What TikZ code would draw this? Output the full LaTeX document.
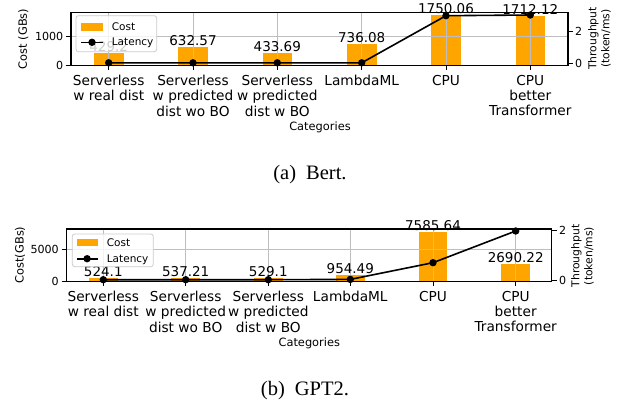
\documentclass[tikz,border=0pt]{standalone}
\usepackage{fontspec}
\newfontfamily\dv{DejaVu Sans}
\newfontfamily\tm{Liberation Serif}
\definecolor{barorange}{RGB}{255,165,0}
\definecolor{gridc}{RGB}{190,190,190}
\definecolor{legedge}{RGB}{204,204,204}
\tikzset{
  spine/.style={line width=1.1pt, black},
  gridl/.style={line width=0.8pt, gridc},
  barfill/.style={fill=barorange},
  latline/.style={line width=1.6pt, black},
  tickm/.style={line width=0.9pt, black},
  xtl/.style={font=\dv\fontsize{13.7}{15.3}\selectfont, align=center, anchor=north, inner sep=0pt},
  vlab/.style={font=\dv\fontsize{13.5}{15}\selectfont, anchor=base, inner sep=0pt},
  ytl/.style={font=\dv\fontsize{11.1}{13}\selectfont, inner sep=0pt},
  axl/.style={font=\dv\fontsize{11.4}{13}\selectfont, inner sep=0pt},
  rlab/.style={font=\dv\fontsize{10.8}{13}\selectfont, inner sep=0pt, rotate=90, align=center},
  legt/.style={font=\dv\fontsize{10.5}{12}\selectfont, anchor=base west, inner sep=0pt},
  legbox/.style={draw=legedge, line width=0.8pt, fill=white, fill opacity=0.8, rounded corners=2.5pt},
  capt/.style={font=\tm\fontsize{20.5}{24}\selectfont, anchor=base, inner sep=0pt},
}
\newcommand{\mkdot}[1]{\fill[black] (#1) circle (3.7pt);}
\begin{document}
\begin{tikzpicture}[x=1pt, y=-1pt]
\useasboundingbox (0,0) rectangle (633,402);
\fill[white] (0,0) rectangle (633,402);

% ================= TOP CHART (Bert) =================
% bars
\fill[barfill] (93.9,65.5) rectangle (123.5,53.25);
\fill[barfill] (178.2,65.5) rectangle (207.8,47.36);
\fill[barfill] (262.5,65.5) rectangle (292.1,53.12);
\fill[barfill] (346.9,65.5) rectangle (376.5,44.35);
\fill[barfill] (431.2,65.5) rectangle (460.8,14.95);
\fill[barfill] (515.5,65.5) rectangle (545.1,16.05);
% grid
\foreach \gx in {108.7,193.0,277.3,361.7,446.0,530.3} {\draw[gridl] (\gx,12.3) -- (\gx,65.5);}
\draw[gridl] (71,36.7) -- (568,36.7);
% value labels
\node[vlab] (va1) at (108.7,51.55) {429.2};
\node[vlab] (va2) at (193.0,45.66) {632.57};
\node[vlab] (va3) at (277.3,51.42) {433.69};
\node[vlab] (va4) at (361.7,42.65) {736.08};
\node[vlab] (va5) at (446.0,13.25) {1750.06};
\node[vlab] (va6) at (530.3,14.35) {1712.12};
% frame
\draw[spine] (71,12.3) rectangle (568,65.5);
% ticks
\foreach \gx in {108.7,193.0,277.3,361.7,446.0,530.3} {\draw[tickm] (\gx,65.5) -- (\gx,69.5);}
\draw[tickm] (65.5,65.5) -- (71,65.5);
\draw[tickm] (65.5,36.7) -- (71,36.7);
\draw[tickm] (568,63.3) -- (573,63.3);
\draw[tickm] (568,31.7) -- (573,31.7);
\node[ytl, anchor=east] (ay0) at (63.5,65.5) {0};
\node[ytl, anchor=east] (ay1) at (63.5,36.7) {1000};
\node[ytl, anchor=west] (ar0) at (575,63.3) {0};
\node[ytl, anchor=west] (ar2) at (575,31.7) {2};
% latency
\coordinate (ta1) at (108.7,62.8);
\coordinate (ta2) at (193.0,62.8);
\coordinate (ta3) at (277.3,62.8);
\coordinate (ta4) at (361.7,62.8);
\coordinate (ta5) at (446.0,15.7);
\coordinate (ta6) at (530.3,15.0);
\draw[latline] (ta1) -- (ta2) -- (ta3) -- (ta4) -- (ta5) -- (ta6);
\mkdot{ta1}\mkdot{ta2}\mkdot{ta3}\mkdot{ta4}\mkdot{ta5}\mkdot{ta6}
% x tick labels
\node[xtl] (xa1) at (108.7,75) {Serverless\\w real dist};
\node[xtl] (xa2) at (193.0,75) {Serverless\\w predicted\\dist wo BO};
\node[xtl] (xa3) at (277.3,75) {Serverless\\w predicted\\dist w BO};
\node[xtl] (xa4) at (361.7,75) {LambdaML};
\node[xtl] (xa5) at (446.0,75) {CPU};
\node[xtl] (xa6) at (530.3,75) {CPU\\better\\Transformer};
% axis labels
\node[axl, anchor=base] (cata) at (320,130) {Categories};
\node[axl, rotate=90] (yla) at (23.3,39) {Cost (GBs)};
\node[rlab] (rla) at (599.5,38.5) {Throughput\\(token/ms)};
% legend
\draw[legbox] (76,15.7) rectangle (156.7,51.7);
\fill[barfill] (81,23) rectangle (103,30.5);
\node[legt] (lca) at (111.7,30.5) {Cost};
\coordinate (lla1) at (81,42.3);
\coordinate (lla2) at (103,42.3);
\coordinate (llam) at (92,42.3);
\draw[latline] (lla1) -- (lla2);
\mkdot{llam}
\node[legt] (lta) at (111.7,45.4) {Latency};
% caption
\node[capt] (capa) at (310,179.3) {(a)\hspace{10pt}Bert.};

% ================= BOTTOM CHART (GPT2) =================
\fill[barfill] (89.0,281.7) rectangle (117.6,278.27);
\fill[barfill] (171.4,281.7) rectangle (200.0,278.19);
\fill[barfill] (254.0,281.7) rectangle (282.6,278.24);
\fill[barfill] (336.0,281.7) rectangle (364.6,275.46);
\fill[barfill] (418.7,281.7) rectangle (447.3,232.09);
\fill[barfill] (501.4,281.7) rectangle (530.0,264.11);
\foreach \gx in {103.3,185.7,268.3,350.3,433.0,515.7} {\draw[gridl] (\gx,229) -- (\gx,281.7);}
\draw[gridl] (66.7,249) -- (551.7,249);
\node[vlab] (vb1) at (103.3,276.57) {524.1};
\node[vlab] (vb2) at (185.7,276.49) {537.21};
\node[vlab] (vb3) at (268.3,276.54) {529.1};
\node[vlab] (vb4) at (350.3,273.76) {954.49};
\node[vlab] (vb5) at (433.0,230.39) {7585.64};
\node[vlab] (vb6) at (515.7,262.41) {2690.22};
\draw[spine] (66.7,229) rectangle (551.7,281.7);
\foreach \gx in {103.3,185.7,268.3,350.3,433.0,515.7} {\draw[tickm] (\gx,281.7) -- (\gx,285.5);}
\draw[tickm] (61.5,281.7) -- (66.7,281.7);
\draw[tickm] (61.5,249) -- (66.7,249);
\draw[tickm] (551.7,280.3) -- (556.7,280.3);
\draw[tickm] (551.7,230.3) -- (556.7,230.3);
\node[ytl, anchor=east] (by0) at (59,281.7) {0};
\node[ytl, anchor=east] (by1) at (59,249) {5000};
\node[ytl, anchor=west] (br0) at (559,280.3) {0};
\node[ytl, anchor=west] (br2) at (559,230.3) {2};
\coordinate (tb1) at (103.3,279.7);
\coordinate (tb2) at (185.7,279.7);
\coordinate (tb3) at (268.3,279.7);
\coordinate (tb4) at (350.3,279.4);
\coordinate (tb5) at (433.0,262.7);
\coordinate (tb6) at (515.7,231.0);
\draw[latline] (tb1) -- (tb2) -- (tb3) -- (tb4) -- (tb5) -- (tb6);
\mkdot{tb1}\mkdot{tb2}\mkdot{tb3}\mkdot{tb4}\mkdot{tb5}\mkdot{tb6}
\node[xtl] (xb1) at (103.3,291) {Serverless\\w real dist};
\node[xtl] (xb2) at (185.7,291) {Serverless\\w predicted\\dist wo BO};
\node[xtl] (xb3) at (268.3,291) {Serverless\\w predicted\\dist w BO};
\node[xtl] (xb4) at (350.3,291) {LambdaML};
\node[xtl] (xb5) at (433.0,291) {CPU};
\node[xtl] (xb6) at (515.7,291) {CPU\\better\\Transformer};
\node[axl, anchor=base] (catb) at (309.3,346) {Categories};
\node[axl, rotate=90] (ylb) at (20,255) {Cost(GBs)};
\node[rlab] (rlb) at (582.5,256) {Throughput\\(token/ms)};
\draw[legbox] (72.3,234) rectangle (153.3,266.7);
\fill[barfill] (76.5,239.3) rectangle (97.7,246.3);
\node[legt] (lcb) at (106.7,246.5) {Cost};
\coordinate (llb1) at (76.5,258.7);
\coordinate (llb2) at (97.7,258.7);
\coordinate (llbm) at (87.1,258.7);
\draw[latline] (llb1) -- (llb2);
\mkdot{llbm}
\node[legt] (ltb) at (106.7,262) {Latency};
\node[capt] (capb) at (305,395) {(b)\hspace{10pt}GPT2.};
\end{tikzpicture}
\end{document}
